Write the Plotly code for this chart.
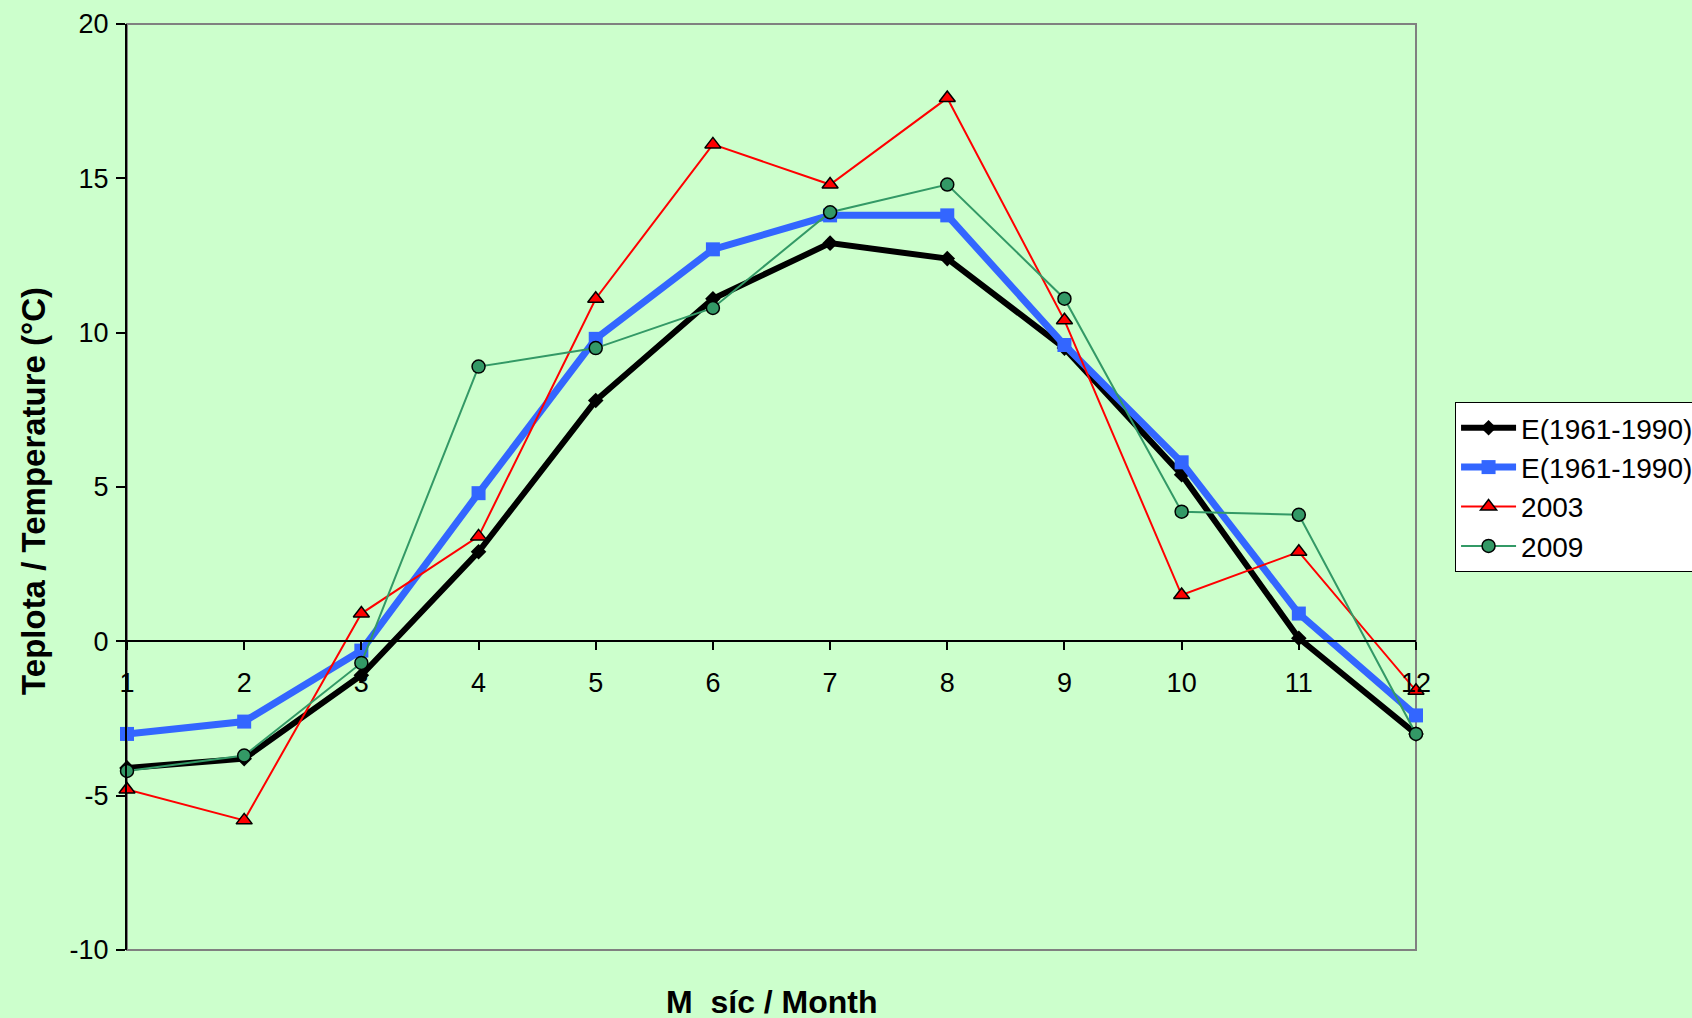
import plotly.graph_objects as go

months = [1, 2, 3, 4, 5, 6, 7, 8, 9, 10, 11, 12]
month_labels = ["1", "2", "3", "4", "5", "6", "7", "8", "9", "10", "11", "12"]
e_black = [-4.1, -3.8, -1.1, 2.9, 7.8, 11.1, 12.9, 12.4, 9.5, 5.4, 0.1, -3.0]
e_blue = [-3.0, -2.6, -0.3, 4.8, 9.8, 12.7, 13.8, 13.8, 9.6, 5.8, 0.9, -2.4]
y2003 = [-4.8, -5.8, 0.9, 3.4, 11.1, 16.1, 14.8, 17.6, 10.4, 1.5, 2.9, -1.6]
y2009 = [-4.2, -3.7, -0.7, 8.9, 9.5, 10.8, 13.9, 14.8, 11.1, 4.2, 4.1, -3.0]
y_ticks = [-10, -5, 0, 5, 10, 15, 20]
y_tick_labels = ["-10", "-5", "0", "5", "10", "15", "20"]

FONT = "Arial, 'Liberation Sans', sans-serif"
BG = "#CCFFCC"

fig = go.Figure()
fig.add_trace(go.Scatter(
    x=months, y=e_black, name="E(1961-1990)", mode="lines+markers",
    line=dict(color="black", width=6),
    marker=dict(symbol="diamond", size=12, color="black"),
    cliponaxis=False))
fig.add_trace(go.Scatter(
    x=months, y=e_blue, name="E(1961-1990)", mode="lines+markers",
    line=dict(color="#3366FF", width=7),
    marker=dict(symbol="square", size=14, color="#3366FF"),
    cliponaxis=False))
fig.add_trace(go.Scatter(
    x=months, y=y2003, name="2003", mode="lines+markers",
    line=dict(color="#FF0000", width=2),
    marker=dict(symbol="triangle-up", size=14, color="#FF0000",
                line=dict(color="black", width=1.5)),
    cliponaxis=False))
fig.add_trace(go.Scatter(
    x=months, y=y2009, name="2009", mode="lines+markers",
    line=dict(color="#339966", width=2),
    marker=dict(symbol="circle", size=13, color="#339966",
                line=dict(color="black", width=1.5)),
    cliponaxis=False))

fig.update_layout(
    width=1692, height=1018,
    margin=dict(l=127, r=276, t=24, b=68, autoexpand=False),
    paper_bgcolor=BG, plot_bgcolor=BG,
    font=dict(family=FONT, size=27, color="black"),
    showlegend=True,
    legend=dict(
        x=1.0303, y=0.5, xanchor="left", yanchor="middle",
        bgcolor="white", bordercolor="black", borderwidth=1,
        font=dict(family=FONT, size=28, color="black"),
        tracegroupgap=0, itemwidth=55),
    xaxis=dict(
        range=[1, 12], tickvals=months, ticktext=month_labels,
        anchor="free", position=1/3,
        showgrid=False, zeroline=False,
        showline=True, linecolor="black", linewidth=1.5,
        ticks="outside", ticklen=8, tickcolor="black", tickwidth=1.5,
        ticklabelstandoff=10,
        tickfont=dict(family=FONT, size=27)),
    yaxis=dict(
        range=[-10, 20], tickvals=y_ticks, ticktext=y_tick_labels,
        showgrid=False, zeroline=False,
        showline=True, linecolor="black", linewidth=2,
        ticks="outside", ticklen=9, tickcolor="black", tickwidth=1.5,
        ticklabelstandoff=2,
        tickfont=dict(family=FONT, size=27)),
    shapes=[dict(type="rect", xref="paper", yref="paper", x0=0, x1=1, y0=0, y1=1,
                 line=dict(color="#808080", width=2), layer="below")],
    annotations=[
        dict(text="<b>M\u00a0\u00a0síc / Month</b>", xref="paper", yref="paper",
             x=0.5, y=-0.056, xanchor="center", yanchor="middle", showarrow=False,
             font=dict(family=FONT, size=32)),
        dict(text="<b>Teplota / Temperature (°C)</b>", xref="paper", yref="paper",
             x=-0.0722, y=0.4957, xanchor="center", yanchor="middle", showarrow=False,
             textangle=-90, font=dict(family=FONT, size=33)),
    ],
)

fig.write_html("out.html", config={"displayModeBar": False},
               post_script="document.body.style.margin='0';")
